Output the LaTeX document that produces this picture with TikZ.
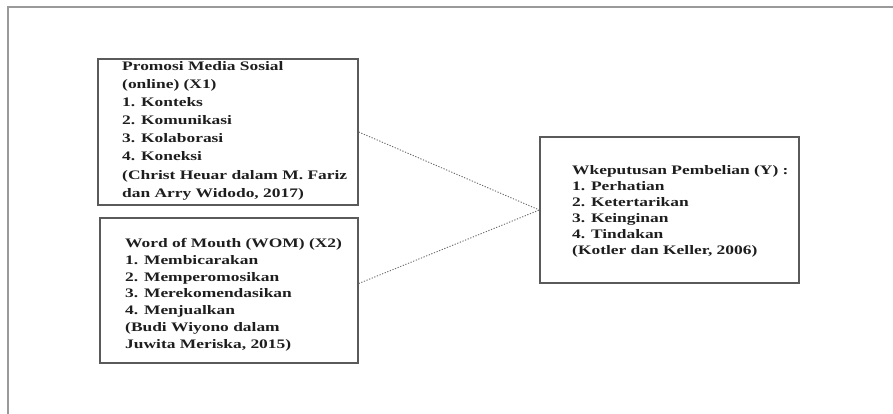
\documentclass[tikz,border=0pt]{standalone}
\usepackage{fontspec}
\newfontface\boxfont[FakeStretch=1.34]{Liberation Serif Bold}
\definecolor{framecol}{HTML}{9A9A9A}
\definecolor{boxcol}{HTML}{5A5A5A}
\definecolor{txtcol}{HTML}{1E1E1E}
\definecolor{dotcol}{HTML}{6A6A6A}
\begin{document}
\begin{tikzpicture}[x=1pt,y=-1pt,
  boxstyle/.style={draw=boxcol, line width=1.4pt, rectangle, inner sep=0pt},
  txt/.style={inner sep=0pt, anchor=base west, text=txtcol},
  link/.style={draw=dotcol, line width=0.9pt, dash pattern=on 1.2pt off 1.6pt}]
\useasboundingbox (0,0) rectangle (893,414);
\fill[white] (0,0) rectangle (893,414);
% page frame
\draw[framecol, line width=1.5pt] (8,414) -- (8,7) -- (893,7);
% boxes
\node[boxstyle, minimum width=260pt, minimum height=146pt] (b1) at (228,132) {};
\node[boxstyle, minimum width=258pt, minimum height=145pt] (b2) at (229,290.5) {};
\node[boxstyle, minimum width=259pt, minimum height=146pt] (b3) at (669.5,210) {};
% texts
\node[txt] (t1) at (122,70.5) {\boxfont\fontsize{13}{18.1}\selectfont
  \begin{tabular}[t]{@{}l@{}}
  Promosi Media Sosial\\
  (online) (X1)\\
  1. Konteks\\
  2. Komunikasi\\
  3. Kolaborasi\\
  4. Koneksi\\
  (Christ Heuar dalam M. Fariz\\
  dan Arry Widodo, 2017)
  \end{tabular}};
\node[txt] (t2) at (125,247.5) {\boxfont\fontsize{13}{16.8}\selectfont
  \begin{tabular}[t]{@{}l@{}}
  Word of Mouth (WOM) (X2)\\
  1. Membicarakan\\
  2. Memperomosikan\\
  3. Merekomendasikan\\
  4. Menjualkan\\
  (Budi Wiyono dalam\\
  Juwita Meriska, 2015)
  \end{tabular}};
\node[txt] (t3) at (572,174.5) {\boxfont\fontsize{13}{15.9}\selectfont
  \begin{tabular}[t]{@{}l@{}}
  Wkeputusan Pembelian (Y) :\\
  1. Perhatian\\
  2. Ketertarikan\\
  3. Keinginan\\
  4. Tindakan\\
  (Kotler dan Keller, 2006)
  \end{tabular}};
% connectors
\draw[link] (b1.east) -- (b3.west);
\draw[link] ([yshift=7pt]b2.east) -- (b3.west);
\end{tikzpicture}
\end{document}
